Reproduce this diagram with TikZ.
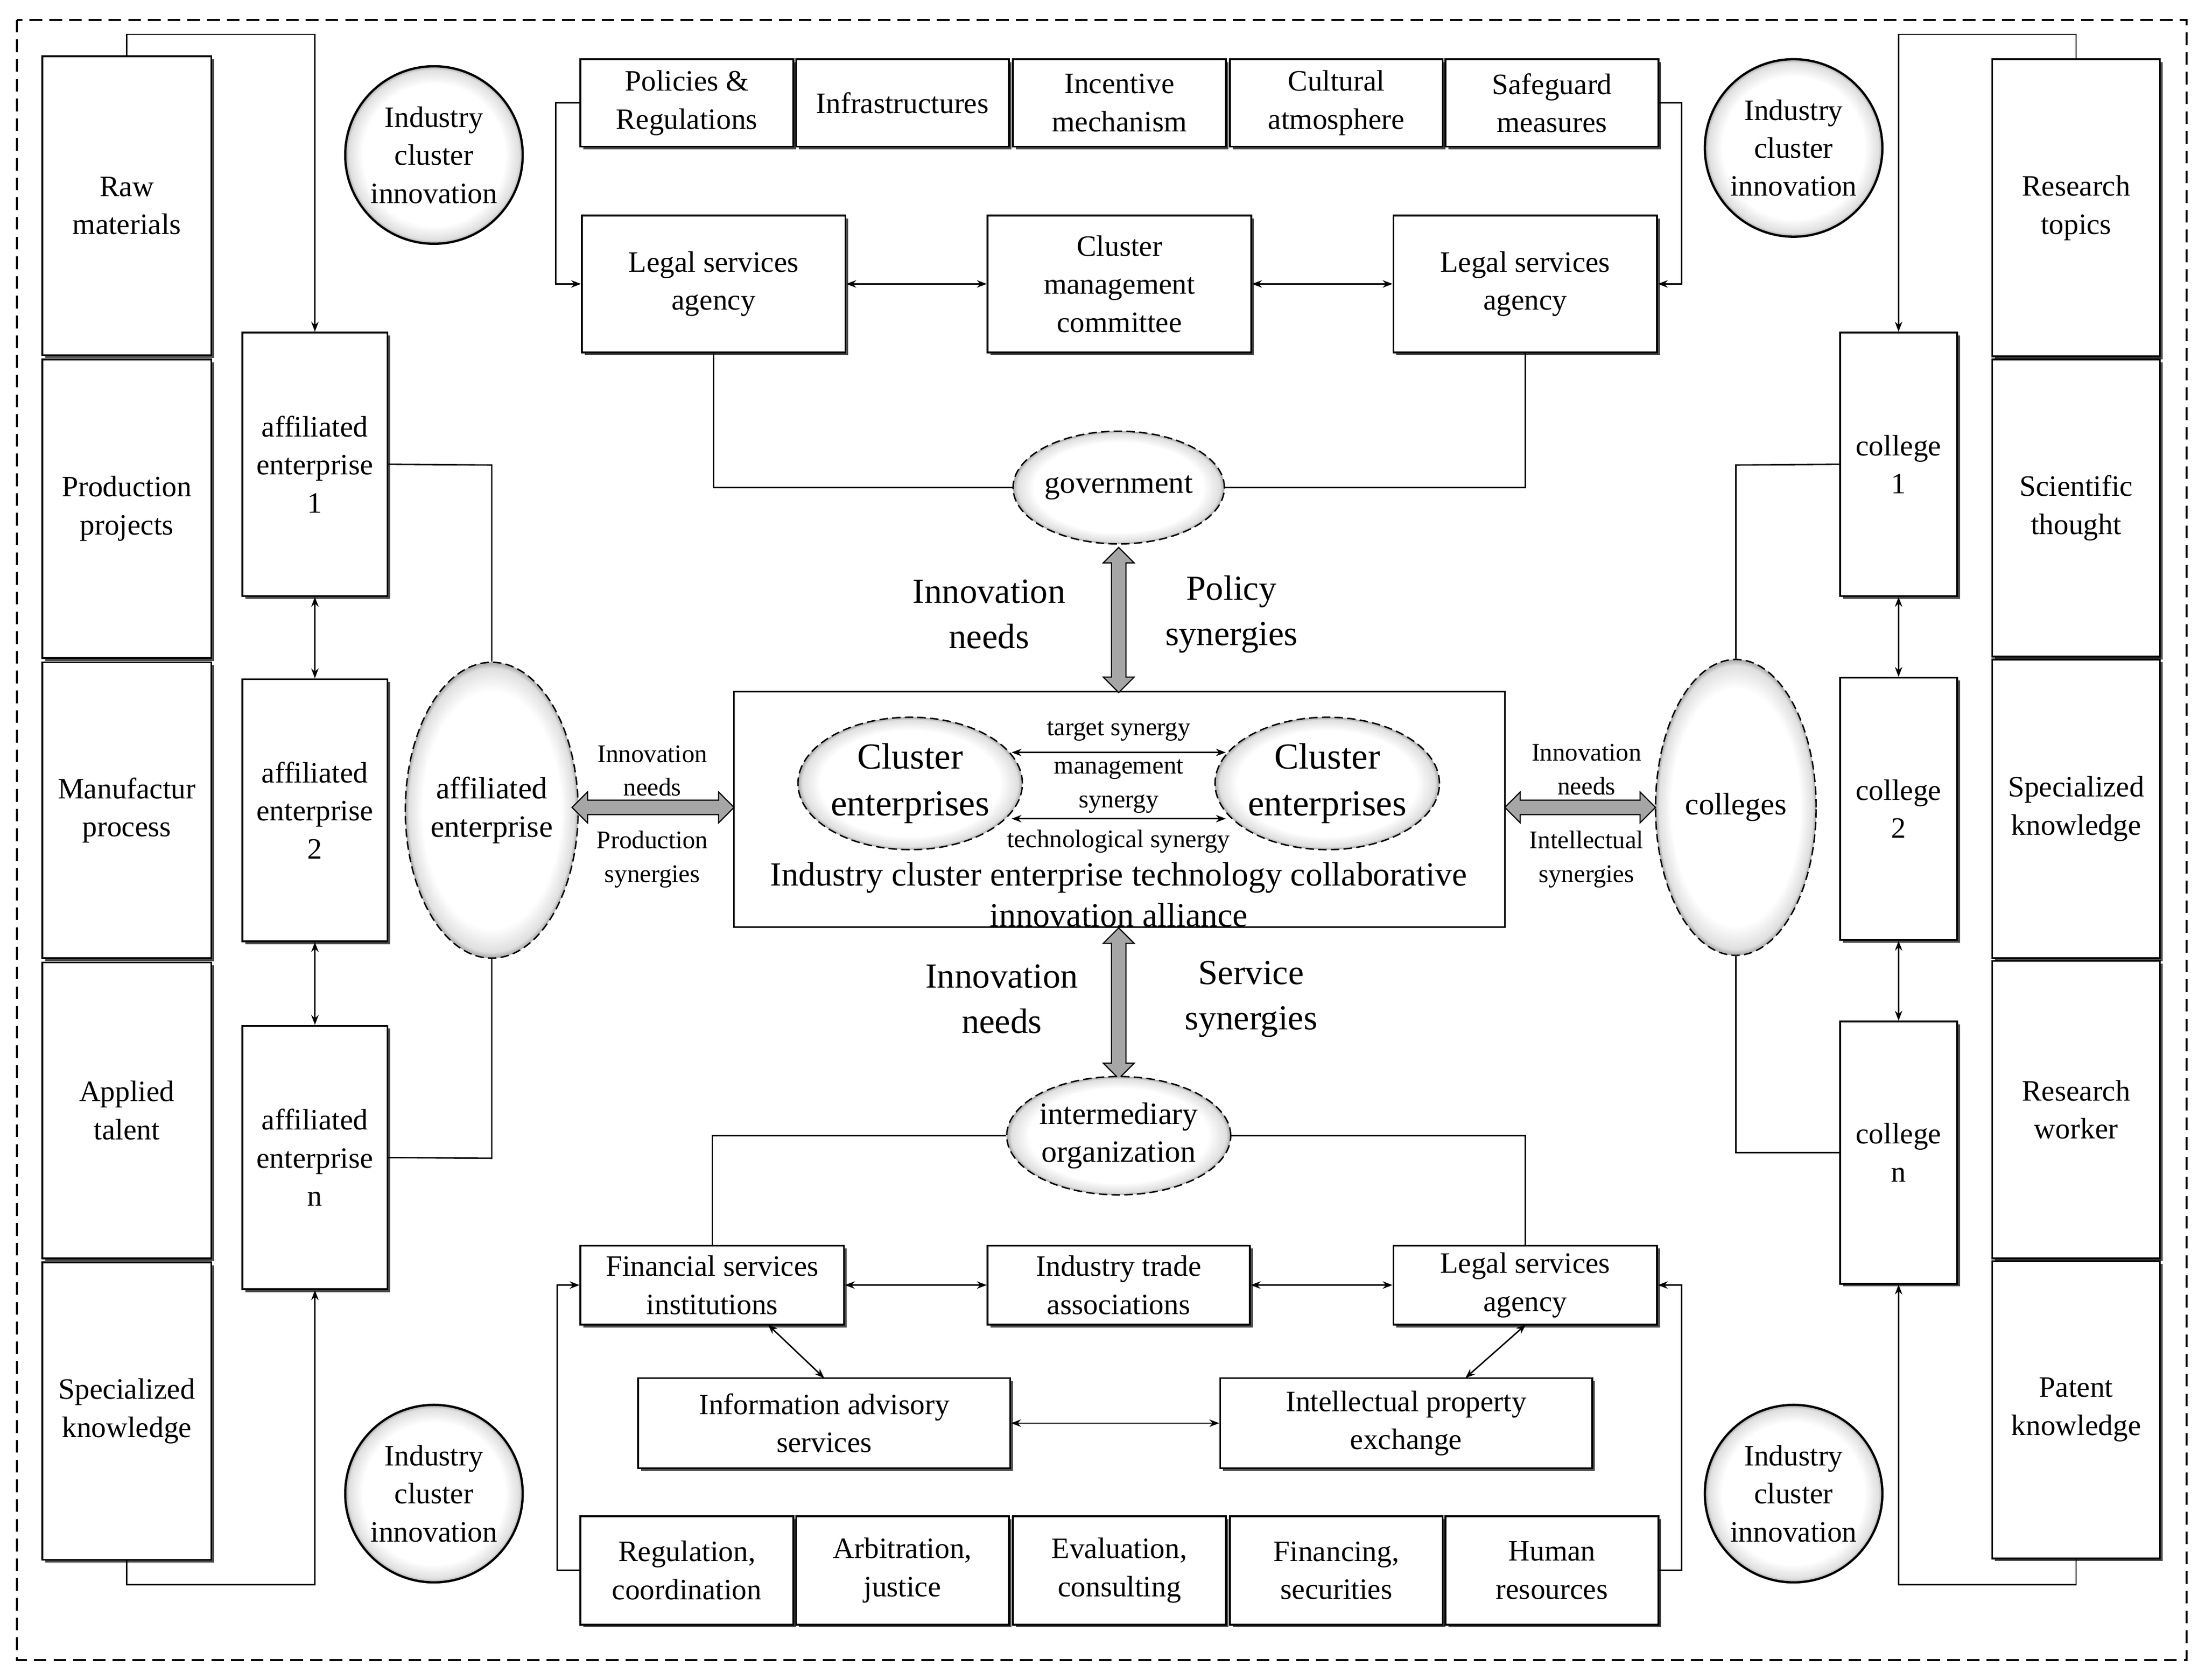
\documentclass[tikz,border=0pt]{standalone}
\usepackage{fontspec}
\setmainfont{Liberation Serif}
\usetikzlibrary{shapes.geometric,shapes.arrows,shadows,arrows.meta}
\pgfdeclareradialshading{rim}{\pgfpoint{0bp}{0bp}}{color(0bp)=(white); color(20bp)=(white); color(24bp)=(gray!25); color(25bp)=(gray!70); color(50bp)=(gray!70)}
\begin{document}
\begin{tikzpicture}[x=1pt,y=-1pt,
 bx/.style={draw,line width=1.3pt,fill=white,align=center,inner sep=0pt,font=\fontsize{21}{27}\selectfont,drop shadow={shadow xshift=2pt,shadow yshift=-2pt,fill=black!70,opacity=1}},
 el/.style={ellipse,draw,dash pattern=on 6pt off 3pt,line width=1pt,inner sep=0pt,shading=rim,align=center},
 ci/.style={circle,draw,line width=1.6pt,inner sep=0pt,minimum size=126pt,shading=rim,align=center,font=\fontsize{21}{27}\selectfont},
 ln/.style={line width=1pt},
 ar/.style={line width=1pt,-{Stealth[length=7pt]}},
 dar/.style={line width=1pt,{Stealth[length=7pt]}-{Stealth[length=7pt]}},
 big/.style={double arrow,draw,line width=0.8pt,fill=gray!70,inner sep=4pt,minimum width=22pt,double arrow head extend=5pt},
 lb/.style={align=center,font=\fontsize{25}{32}\selectfont},
 sl/.style={align=center,font=\fontsize{18}{24}\selectfont}]
\useasboundingbox (0,0) rectangle (1565,1192);
\newcommand\bx[6]{\node[bx,minimum width={(#4-#2)*1pt},minimum height={(#5-#3)*1pt}] (#1) at ({(#2+#4)/2},{(#3+#5)/2}) {#6};}
\draw[dash pattern=on 9pt off 5pt,line width=1.4pt] (12,14) rectangle (1552,1178);
% left column
\bx{l1}{30}{40}{150}{252}{Raw\\materials}
\bx{l2}{30}{255}{150}{467}{Production\\projects}
\bx{l3}{30}{470}{150}{680}{Manufactur\\process}
\bx{l4}{30}{683}{150}{893}{Applied\\talent}
\bx{l5}{30}{896}{150}{1107}{Specialized\\knowledge}
\bx{a1}{172}{236}{275}{423}{affiliated\\enterprise\\1}
\bx{a2}{172}{482}{275}{668}{affiliated\\enterprise\\2}
\bx{an}{172}{728}{275}{915}{affiliated\\enterprise\\n}
\draw[ar] (l1.north) -- ++(0,-15) -| (a1.north);
\draw[ar] (l5.south) -- ++(0,17) -| (an.south);
\draw[dar] (a1) -- (a2); \draw[dar] (a2) -- (an);
% right column
\bx{r1}{1414}{42}{1533}{253}{Research\\topics}
\bx{r2}{1414}{255}{1533}{466}{Scientific\\thought}
\bx{r3}{1414}{468}{1533}{680}{Specialized\\knowledge}
\bx{r4}{1414}{682}{1533}{893}{Research\\worker}
\bx{r5}{1414}{895}{1533}{1106}{Patent\\knowledge}
\bx{c1}{1306}{236}{1389}{423}{college\\1}
\bx{c2}{1306}{481}{1389}{667}{college\\2}
\bx{cn}{1306}{725}{1389}{911}{college\\n}
\draw[ar] (r1.north) -- ++(0,-17) -| (c1.north);
\draw[ar] (r5.south) -- ++(0,18) -| (cn.south);
\draw[dar] (c1) -- (c2); \draw[dar] (c2) -- (cn);
% circles
\node[ci] (k1) at (308,110) {Industry\\cluster\\innovation};
\node[ci] (k2) at (1273,105) {Industry\\cluster\\innovation};
\node[ci] (k3) at (308,1060) {Industry\\cluster\\innovation};
\node[ci] (k4) at (1273,1060) {Industry\\cluster\\innovation};
% top
\bx{t1}{412}{42}{563}{104}{Policies \&\\Regulations}
\bx{t2}{565}{42}{716}{104}{Infrastructures}
\bx{t3}{719}{42}{870}{104}{Incentive\\mechanism}
\bx{t4}{873}{42}{1024}{104}{Cultural\\atmosphere}
\bx{t5}{1026}{42}{1177}{104}{Safeguard\\measures}
\bx{g1}{413}{153}{600}{250}{Legal services\\agency}
\bx{g2}{701}{153}{888}{250}{Cluster\\management\\committee}
\bx{g3}{989}{153}{1176}{250}{Legal services\\agency}
\draw[ar] (t1.west) -- ++(-17,0) |- (g1.west);
\draw[ar] (t5.east) -- ++(16,0) |- (g3.east);
\draw[dar] (g1) -- (g2); \draw[dar] (g2) -- (g3);
\node[el,minimum width=150pt,minimum height=80pt,font=\fontsize{22}{27}\selectfont] (gov) at (794,346) {government};
\draw[ln] (gov.west) -| (g1.south);
\draw[ln] (gov.east) -| (g3.south);
% alliance
\node[draw,line width=1.1pt,fill=white,minimum width=547pt,minimum height=167pt] (al) at (794.5,574.5) {};
\node[el,minimum width=144pt,minimum height=94pt,font=\fontsize{26}{33}\selectfont] (ce1) at (646,556) {Cluster\\enterprises};
\node[el,minimum width=144pt,minimum height=94pt,font=\fontsize{26}{33}\selectfont] (ce2) at (942,556) {Cluster\\enterprises};
\coordinate (p1) at (718,534); \coordinate (p2) at (870,534);
\coordinate (q1) at (718,581); \coordinate (q2) at (870,581);
\draw[dar] (p1) -- (p2); \draw[dar] (q1) -- (q2);
\node[sl] at (794,519) {target synergy};
\node[sl] at (794,558) {management\\synergy};
\node[sl] at (794,597) {technological synergy};
\node[align=center,font=\fontsize{24}{29}\selectfont] at (794,635) {Industry cluster enterprise technology collaborative\\innovation alliance};
\node[big,rotate=90,minimum height=103pt] at (794,440) {};
\node[lb] at (702,436) {Innovation\\needs};
\node[lb] at (874,436) {Policy\\synergies};
\node[big,rotate=90,minimum height=107pt] at (794,712) {};
\node[lb] at (711,709) {Innovation\\needs};
\node[lb] at (888,709) {Service\\synergies};
% sides
\node[el,minimum width=114pt,minimum height=210pt,font=\fontsize{22}{27}\selectfont] (ae) at (349,575) {affiliated\\enterprise};
\draw[ln] (a1.east) -- (349,330) -- (ae.north);
\draw[ln] (an.east) -- (349,822) -- (ae.south);
\node[big,minimum height=115pt] at (463.5,573) {};
\node[sl] at (463,547) {Innovation\\needs};
\node[sl] at (463,610) {Production\\synergies};
\node[el,minimum width=114pt,minimum height=210pt,font=\fontsize{22}{27}\selectfont] (co) at (1232,573) {colleges};
\draw[ln] (c1.west) -- (1232,330) -- (co.north);
\draw[ln] (cn.west) -- (1232,818) -- (co.south);
\node[big,minimum height=107pt] at (1121.5,573) {};
\node[sl] at (1126,546) {Innovation\\needs};
\node[sl] at (1126,610) {Intellectual\\synergies};
% bottom
\node[el,minimum width=150pt,minimum height=84pt,font=\fontsize{22}{27}\selectfont] (im) at (794,806) {intermediary\\organization};
\bx{f1}{412}{884}{599}{940}{Financial services\\institutions}
\bx{f2}{701}{884}{887}{940}{Industry trade\\associations}
\bx{f3}{989}{884}{1176}{940}{Legal services\\agency}
\bx{i1}{453}{978}{717}{1042}{Information advisory\\services}
\bx{i2}{866}{978}{1130}{1042}{Intellectual property\\exchange}
\draw[ln] (im.west) -| (f1.north);
\draw[ln] (im.east) -| (f3.north);
\draw[dar] (f1) -- (f2); \draw[dar] (f2) -- (f3);
\draw[dar] (i1) -- (i2);
\draw[dar] (545,940) -- (585,978);
\draw[dar] (1083,940) -- (1040,978);
\bx{b1}{412}{1076}{563}{1153}{Regulation,\\coordination}
\bx{b2}{565}{1076}{716}{1153}{Arbitration,\\justice}
\bx{b3}{719}{1076}{870}{1153}{Evaluation,\\consulting}
\bx{b4}{873}{1076}{1024}{1153}{Financing,\\securities}
\bx{b5}{1026}{1076}{1177}{1153}{Human\\resources}
\draw[ar] (b1.west) -- ++(-16,0) |- (f1.west);
\draw[ar] (b5.east) -- ++(16,0) |- (f3.east);
\end{tikzpicture}
\end{document}
